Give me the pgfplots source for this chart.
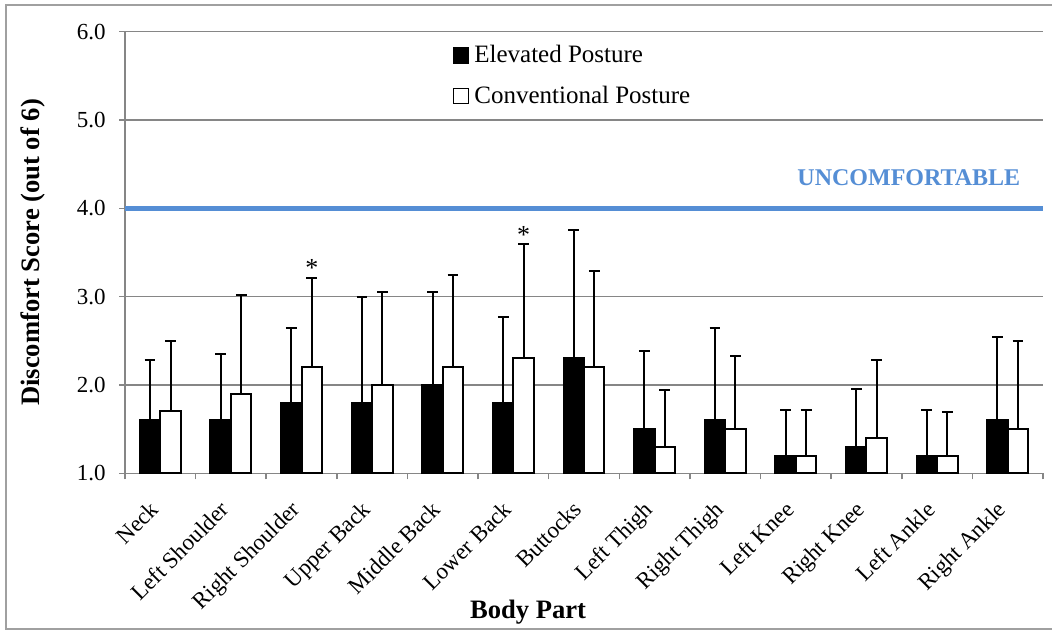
\documentclass[border=0pt]{standalone}
\usepackage{pgfplots}
\pgfplotsset{compat=1.18}
\usepackage{pgfplotstable}
\usepackage{fontspec}
\setmainfont{Liberation Serif}
\definecolor{axgray}{RGB}{134,134,134}
\definecolor{ublue}{RGB}{85,142,213}
\definecolor{framegray}{RGB}{160,160,160}

\pgfplotstableread{
x m e
0 1.6 0.68
1 1.6 0.75
2 1.8 0.85
3 1.8 1.20
4 2.0 1.05
5 1.8 0.97
6 2.3 1.45
7 1.5 0.89
8 1.6 1.05
9 1.2 0.52
10 1.3 0.66
11 1.2 0.52
12 1.6 0.94
}\elev

\pgfplotstableread{
x m e
0 1.7 0.80
1 1.9 1.12
2 2.2 1.01
3 2.0 1.05
4 2.2 1.04
5 2.3 1.30
6 2.2 1.09
7 1.3 0.64
8 1.5 0.83
9 1.2 0.52
10 1.4 0.88
11 1.2 0.49
12 1.5 1.00
}\conv

\begin{document}
\begin{tikzpicture}
\useasboundingbox (0,0) rectangle (526pt,315pt);
\draw[framegray, line width=0.75pt] (3pt,0.4pt) rectangle (540pt,312.5pt);
\begin{axis}[
  at={(62.5pt,78.35pt)}, anchor=south west,
  scale only axis, width=459pt, height=220.8pt,
  xmin=-0.5, xmax=12.5, ymin=1, ymax=6,
  axis lines=left,
  axis line style={axgray, line width=0.75pt, -},
  tick align=outside,
  major tick length=3pt,
  tick style={axgray, line width=0.75pt},
  xtick={-0.5,0.5,...,12.5},
  x tick label as interval,
  xticklabels={Neck, Left Shoulder, Right Shoulder, Upper Back, Middle Back, Lower Back, Buttocks, Left Thigh, Right Thigh, Left Knee, Right Knee, Left Ankle, Right Ankle},
  xticklabel style={font=\fontsize{11.5}{13}\selectfont, inner sep=0pt, xshift=-6pt, yshift=5pt, anchor=north east, rotate=45},
  xticklabel shift=15pt,
  ytick={1,2,3,4,5,6},
  yticklabel style={font=\fontsize{11.5}{13}\selectfont, inner sep=0pt, xshift=-6.5pt},
  /pgf/number format/assume math mode=true,
  /pgf/number format/.cd, fixed, fixed zerofill, precision=1, /pgfplots/.cd,
  ymajorgrids,
  major grid style={axgray, line width=0.75pt},
  xlabel={\textbf{Body Part}},
  xlabel style={font=\fontsize{13.3}{15}\selectfont, at={(axis description cs:0.439,0)}, anchor=center, yshift=-69.3pt},
  ylabel={\textbf{Discomfort Score (out of 6)}},
  ylabel style={font=\fontsize{13.3}{15}\selectfont, at={(axis description cs:-0.1002,0.5)}, anchor=center},
  legend image code/.code={\draw[#1, line width=0.6pt] (0pt,-3.75pt) rectangle (7.5pt,3.75pt);},
  legend style={draw=none, fill=none, inner sep=0pt, at={(axis description cs:0.357,0.97)}, anchor=north west,
    nodes={inner sep=0pt, font=\fontsize{12.5}{15}\selectfont}, row sep=10pt, column sep=2.5pt},
  legend cell align=left,
]
\addplot[ublue, line width=2.3pt, forget plot] coordinates {(-0.5,4) (12.5,4)};
\addplot[ybar, bar width=0.29, bar shift=0, fill=black, draw=black, line width=1pt,
  error bars/.cd, y dir=plus, y explicit,
  error bar style={line width=1pt, black},
  error mark options={rotate=90, mark size=2.7pt, line width=1pt, black}]
  table[x expr=\thisrow{x}-0.145, y=m, y error=e] {\elev};
\addplot[ybar, bar width=0.29, bar shift=0, fill=white, draw=black, line width=1pt,
  error bars/.cd, y dir=plus, y explicit,
  error bar style={line width=1pt, black},
  error mark options={rotate=90, mark size=2.7pt, line width=1pt, black}]
  table[x expr=\thisrow{x}+0.145, y=m, y error=e] {\conv};
\legend{Elevated Posture, Conventional Posture}
\node[font=\bfseries\fontsize{12}{14}\selectfont, text=ublue] at (axis cs:10.6,4.344) {UNCOMFORTABLE};
\node[font=\fontsize{13}{15}\selectfont, anchor=base, inner sep=0pt] at (axis cs:2.145,3.23) {*};
\node[font=\fontsize{13}{15}\selectfont, anchor=base, inner sep=0pt] at (axis cs:5.145,3.60) {*};
\end{axis}
\end{tikzpicture}
\end{document}
